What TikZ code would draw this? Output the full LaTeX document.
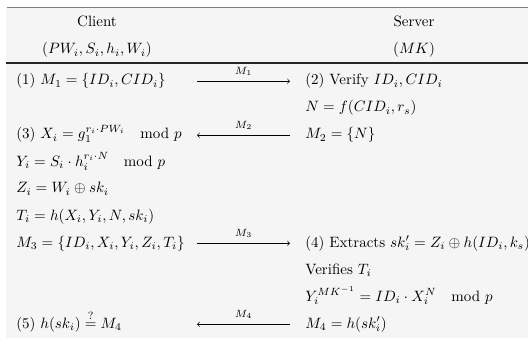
\documentclass[tikz,border=0pt]{standalone}
\usepackage{amsmath}
\newcommand{\mymod}{\mkern18mu\mathrm{mod}\,\,}
\begin{document}
\begin{tikzpicture}[x=0.6667pt,y=-0.6667pt,
  txt/.style={anchor=base west,inner sep=0pt},
  hdr/.style={anchor=base,inner sep=0pt},
  msg/.style={-to,line width=0.4pt},
  lbl/.style={anchor=base,inner sep=0pt,font=\scriptsize}]
\useasboundingbox (0,0) rectangle (528,338);
\fill[white] (0,0) rectangle (528,338);
\fill[black!4] (6,7) rectangle (528,338);
\draw[black!50,line width=1.3pt] (7,7.5) -- (528,7.5);
\draw[black!85,line width=0.7pt] (6,63) -- (528,63);
% headers
\node[hdr] (hc) at (97,27) {Client};
\node[hdr] (hcp) at (97,54) {$(PW_i,S_i,h_i,W_i)$};
\node[hdr] (hs) at (414,27) {Server};
\node[hdr] (hsp) at (414,54) {$(MK)$};
% left column
\node[txt] (l1) at (16,85) {(1) $M_1=\{ID_i,CID_i\}$};
\node[txt] (l3) at (16,139) {(3) $X_i=g_1^{r_i\cdot PW_i}\mymod p$};
\node[txt] (l4) at (16,166) {$Y_i=S_i\cdot h_i^{r_i\cdot N}\mymod p$};
\node[txt] (l5) at (16,193) {$Z_i=W_i\oplus sk_i$};
\node[txt] (l6) at (16,220) {$T_i=h(X_i,Y_i,N,sk_i)$};
\node[txt] (l7) at (16,247) {$M_3=\{ID_i,X_i,Y_i,Z_i,T_i\}$};
\node[txt] (l10) at (16,328) {(5) $h(sk_i)\stackrel{?}{=}M_4$};
% right column
\node[txt] (r1) at (305,85) {(2) Verify $ID_i,CID_i$};
\node[txt] (r2) at (305,112) {$N=f(CID_i,r_s)$};
\node[txt] (r3) at (305,139) {$M_2=\{N\}$};
\node[txt] (r7) at (305,247) {(4) Extracts $sk_i'=Z_i\oplus h(ID_i,k_s)$};
\node[txt] (r8) at (305,274) {Verifies $T_i$};
\node[txt] (r9) at (305,301) {$Y_i^{MK^{-1}}=ID_i\cdot X_i^N\mymod p$};
\node[txt] (r10) at (305,328) {$M_4=h(sk_i')$};
% arrows
\coordinate (a1l) at (197,81.25); \coordinate (a1r) at (290,81.25);
\coordinate (a2l) at (197,135.25); \coordinate (a2r) at (290,135.25);
\coordinate (a3l) at (197,243.25); \coordinate (a3r) at (290,243.25);
\coordinate (a4l) at (197,324.25); \coordinate (a4r) at (290,324.25);
\draw[msg] (a1l) -- (a1r);
\draw[msg] (a2r) -- (a2l);
\draw[msg] (a3l) -- (a3r);
\draw[msg] (a4r) -- (a4l);
\node[lbl] (m1) at (243.5,74.25) {$M_1$};
\node[lbl] (m2) at (243.5,128.25) {$M_2$};
\node[lbl] (m3) at (243.5,236.25) {$M_3$};
\node[lbl] (m4) at (243.5,317.25) {$M_4$};
\end{tikzpicture}
\end{document}
